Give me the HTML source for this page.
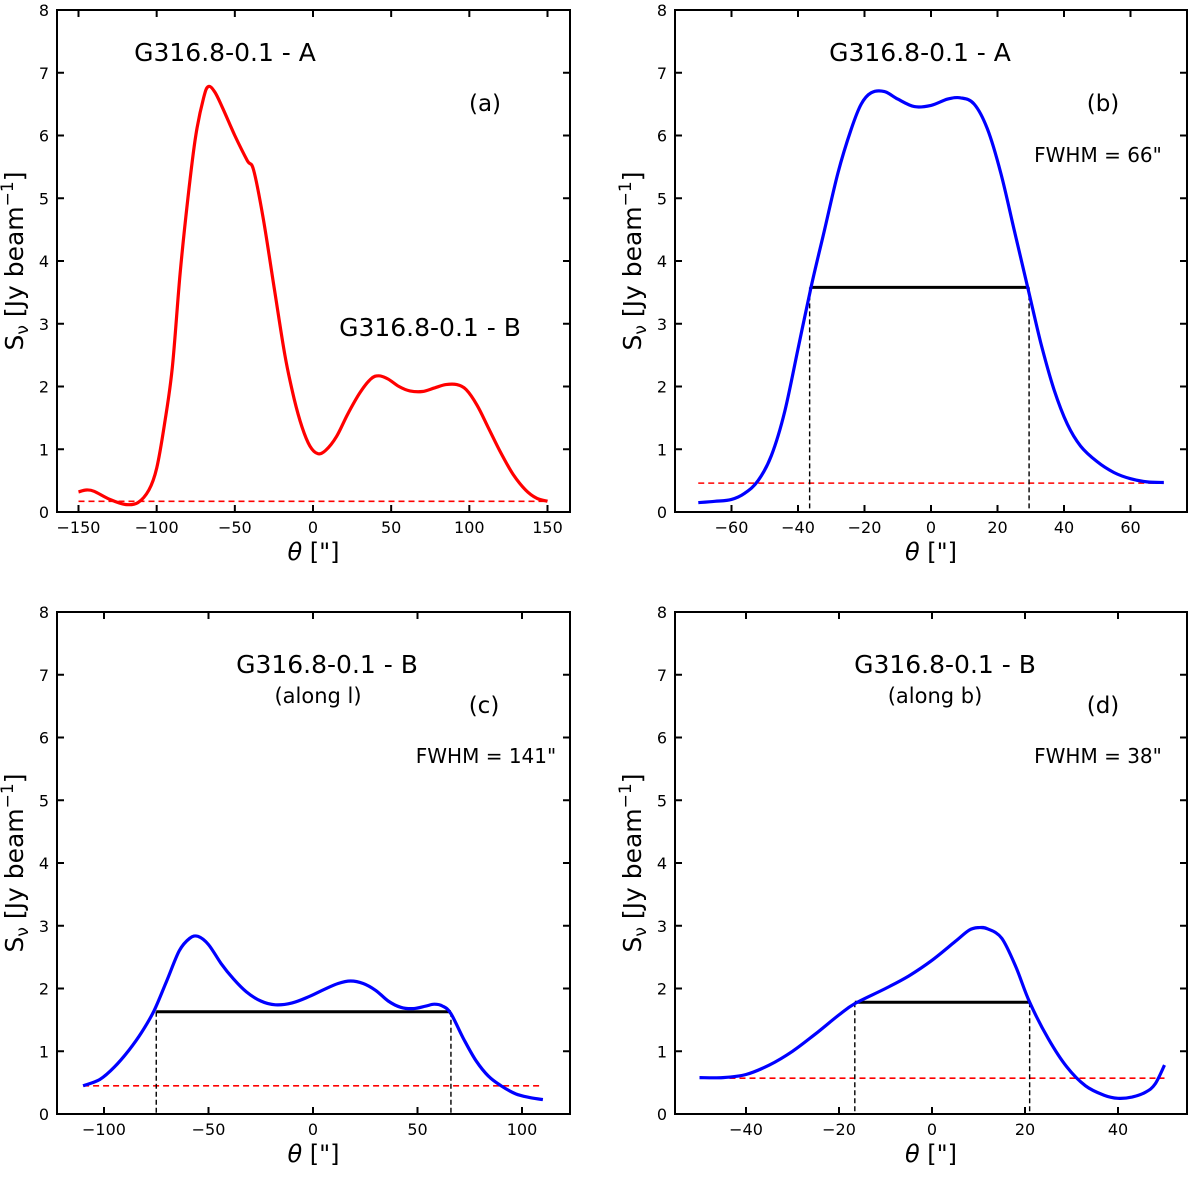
<!DOCTYPE html>
<html><head><meta charset="utf-8"><style>
body{margin:0;background:#fff}
svg text{font-family:"DejaVu Sans","Liberation Sans",sans-serif;fill:#000}
</style></head><body>
<svg id="c" width="1200" height="1173" xmlns="http://www.w3.org/2000/svg"></svg>
<script>
const aTheta=[-150,-145,-140,-130,-120,-112,-105,-100,-95,-90,-85,-80,-75,-70,-67,-63,-58,-50,-42,-38,-32,-25,-18,-12,-7,-2,3,8,15,22,30,37,42,48,55,62,70,78,85,92,98,105,112,120,128,136,143,150];
const aFlux=[.32,.35,.33,.2,.12,.15,.35,.7,1.4,2.3,3.8,5.0,6.0,6.6,6.78,6.7,6.45,6.0,5.6,5.45,4.7,3.6,2.5,1.8,1.35,1.05,.93,.98,1.2,1.55,1.9,2.12,2.17,2.12,2.0,1.93,1.92,1.98,2.03,2.03,1.95,1.7,1.35,.95,.6,.35,.22,.17];
const bTheta=[-70,-65,-60,-56,-52,-48,-44,-40,-36,-32,-28,-24,-21,-18,-14,-10,-5,0,5,9,13,17,21,25,29,33,37,41,45,50,55,60,65,70];
const bFlux=[.15,.17,.2,.3,.5,.9,1.6,2.6,3.6,4.5,5.4,6.1,6.5,6.68,6.7,6.58,6.46,6.48,6.58,6.6,6.5,6.1,5.4,4.5,3.6,2.7,1.95,1.4,1.05,.8,.63,.53,.48,.47];
const cTheta=[-110,-102,-95,-88,-82,-76,-70,-64,-59,-55,-50,-44,-38,-32,-25,-18,-10,-2,5,12,18,24,30,36,42,48,54,58,62,66,72,78,84,90,97,104,110];
const cFlux=[.45,.55,.75,1.02,1.3,1.65,2.12,2.6,2.8,2.83,2.7,2.4,2.15,1.95,1.8,1.74,1.77,1.87,1.98,2.08,2.12,2.08,1.97,1.8,1.7,1.68,1.72,1.75,1.72,1.6,1.2,.85,.6,.45,.32,.26,.23];
const dTheta=[-50,-45,-40,-35,-30,-25,-20,-16.6,-10,-5,0,5,8,10,12,15,18,21,25,29,33,37,40,43,46,48,50];
const dFlux=[.58,.58,.63,.78,1.0,1.28,1.58,1.76,2.0,2.2,2.45,2.75,2.93,2.97,2.95,2.8,2.35,1.78,1.2,.75,.45,.3,.25,.27,.35,.48,.78];
const baselines=[0.17,0.46,0.45,0.57];
const baseRanges=[[-150,150],[-70,70],[-110,110],[-50,50]];
const fwhmLevels=[null,3.58,1.63,1.78];
const fwhmRanges=[null,[-36.5,29.5],[-75,66],[-16.6,21]];
const xTicks=[[-150,-100,-50,0,50,100,150],[-60,-40,-20,0,20,40,60],[-100,-50,0,50,100],[-40,-20,0,20,40]];
const yTicks=[0,1,2,3,4,5,6,7,8];
const NS="http://www.w3.org/2000/svg";
const svg=document.getElementById('c');
const panels=[
 {L:57,R:570,T:10,B:512,x0:313,k:1.5633,th:aTheta,f:aFlux,col:'#f00',name:'a'},
 {L:675,R:1187,T:10,B:512,x0:931,k:3.325,th:bTheta,f:bFlux,col:'#00f',name:'b'},
 {L:57,R:570,T:612,B:1114,x0:313,k:2.09,th:cTheta,f:cFlux,col:'#00f',name:'c'},
 {L:675,R:1187,T:612,B:1114,x0:932,k:4.65,th:dTheta,f:dFlux,col:'#00f',name:'d'}];
function mk(t,a,p){const e=document.createElementNS(NS,t);for(const k in a)e.setAttribute(k,a[k]);(p||svg).appendChild(e);return e;}
function txt(x,y,s,size,anchor,name,p){const e=mk('text',{x:x,y:y,'font-size':size,'text-anchor':anchor||'middle'},p);e.textContent=s;


return e;}
function smooth(P){let d='M'+P[0][0].toFixed(1)+','+P[0][1].toFixed(1);
 for(let i=0;i<P.length-1;i++){const p0=P[Math.max(0,i-1)],p1=P[i],p2=P[i+1],p3=P[Math.min(P.length-1,i+2)];
  const c1=[p1[0]+(p2[0]-p0[0])/6,p1[1]+(p2[1]-p0[1])/6],c2=[p2[0]-(p3[0]-p1[0])/6,p2[1]-(p3[1]-p1[1])/6];
  d+=' C'+c1.map(v=>v.toFixed(1))+' '+c2.map(v=>v.toFixed(1))+' '+p2.map(v=>v.toFixed(1));}
 return d;}
panels.forEach((P,i)=>{
 const g=mk('g',{});
 
 
 const X=v=>P.x0+v*P.k, Y=v=>P.B-v*(P.B-P.T)/8;
 const bl=mk('line',{x1:X(baseRanges[i][0]),x2:X(baseRanges[i][1]),y1:Y(baselines[i]),y2:Y(baselines[i]),stroke:'#f00','stroke-width':1.6,'stroke-dasharray':'6,4'},g);
 
 
 if(fwhmLevels[i]!=null){
  const r=fwhmRanges[i],lv=fwhmLevels[i];
  const h=mk('line',{x1:X(r[0]),x2:X(r[1]),y1:Y(lv),y2:Y(lv),stroke:'#000','stroke-width':3},g);
  
  
  r.forEach(v=>{const d=mk('line',{x1:X(v),x2:X(v),y1:Y(lv),y2:P.B,stroke:'#000','stroke-width':1.4,'stroke-dasharray':'5,3'},g);
  
  });
 }
 const pts=P.th.map((t,j)=>[X(t),Y(P.f[j])]);
 const pl=mk('path',{d:smooth(pts),fill:'none',stroke:P.col,'stroke-width':3.2,'stroke-linejoin':'round'},g);
 
 
 const fr=mk('rect',{x:P.L,y:P.T,width:P.R-P.L,height:P.B-P.T,fill:'none',stroke:'#000','stroke-width':2},g);
 
 
 xTicks[i].forEach(v=>{mk('line',{x1:X(v),x2:X(v),y1:P.B,y2:P.B-7,stroke:'#000','stroke-width':2},g);
  mk('line',{x1:X(v),x2:X(v),y1:P.T,y2:P.T+7,stroke:'#000','stroke-width':2},g);
  txt(X(v),P.B+21,v<0?'\u2212'+(-v):String(v),16,'middle','x-tick-label',g);});
 yTicks.forEach(v=>{mk('line',{x1:P.L,x2:P.L+7,y1:Y(v),y2:Y(v),stroke:'#000','stroke-width':2},g);
  mk('line',{x1:P.R,x2:P.R-7,y1:Y(v),y2:Y(v),stroke:'#000','stroke-width':2},g);
  txt(P.L-8,Y(v)+6,String(v),16,'end','y-tick-label',g);});
 const xl=txt((P.L+P.R)/2,P.B+48,'',24,'middle','x-axis-title',g);
 xl.innerHTML='<tspan font-style="italic">θ</tspan> ["]';
 const yl=txt(0,0,'',25,'middle','y-axis-title',g);
 yl.setAttribute('transform','translate('+(P.L-34)+','+((P.T+P.B)/2)+') rotate(-90)');
 yl.innerHTML='S<tspan font-size="17" dy="5">ν</tspan><tspan dy="-5"> [Jy beam</tspan><tspan font-size="17" dy="-10">−1</tspan><tspan dy="10">]</tspan>';
});
txt(225,61,'G316.8-0.1 - A',25,'middle','title-a');
txt(485,111,'(a)',23,'middle','panel-label-a');
txt(430,336,'G316.8-0.1 - B',25,'middle','label-source-b');
txt(920,61,'G316.8-0.1 - A',25,'middle','title-b');
txt(1103,111,'(b)',23,'middle','panel-label-b');
txt(1098,162,'FWHM = 66"',20,'middle','fwhm-b');
txt(327,673,'G316.8-0.1 - B',25,'middle','title-c');
txt(318,703,'(along l)',21,'middle','subtitle-c');
txt(484,713,'(c)',23,'middle','panel-label-c');
txt(486,763,'FWHM = 141"',20,'middle','fwhm-c');
txt(945,673,'G316.8-0.1 - B',25,'middle','title-d');
txt(935,703,'(along b)',21,'middle','subtitle-d');
txt(1103,713,'(d)',23,'middle','panel-label-d');
txt(1098,763,'FWHM = 38"',20,'middle','fwhm-d');
</script>
</body></html>
